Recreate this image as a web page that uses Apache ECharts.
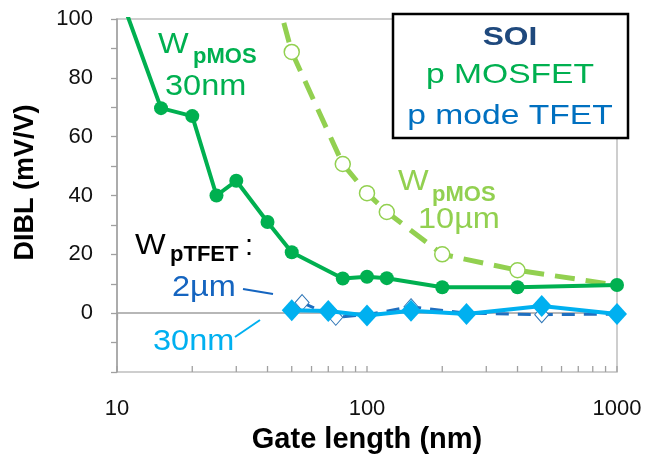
<!DOCTYPE html>
<html>
<head>
<meta charset="utf-8">
<script src="https://cdn.jsdelivr.net/npm/echarts@6/dist/echarts.min.js"></script>
<style>
html,body{margin:0;padding:0;background:#fff;}
#chart{width:646px;height:459px;}
</style>
</head>
<body>
<div id="chart"></div>
<script>
// ---- data (gate length in nm, DIBL in mV/V) ----
const pmos30L    = [10, 15, 20, 25, 30, 40, 50, 80, 100, 120, 200, 400, 1000];
const pmos30DIBL = [111, 69.7, 67, 40, 45, 31, 20.7, 11.8, 12.4, 11.9, 8.8, 8.8, 9.6];

const pmos10L    = [40, 50, 80, 100, 120, 200, 400, 1000];
const pmos10DIBL = [119, 88.8, 50.7, 40.8, 34.4, 20, 14.6, 9.5];

const tfet2L     = [55, 75, 100, 150, 250, 500, 1000];
const tfet2DIBL  = [3.6, -1.4, -0.5, 2.2, 0, -0.5, -0.3];

const tfet30L    = [50, 70, 100, 150, 250, 500, 1000];
const tfet30DIBL = [1.0, 0.7, -0.8, 0.8, -0.3, 2.4, -0.3];

const xTickLabels = [10, 100, 1000];
const yTickLabels = [0, 20, 40, 60, 80, 100];
const xMinorTicks = [20, 30, 40, 50, 60, 70, 80, 90, 200, 300, 400, 500, 600, 700, 800, 900, 10, 100, 1000];

const zip = (xs, ys) => xs.map((x, i) => [x, ys[i]]);

const FONT = 'Arial, "Liberation Sans", Helvetica, sans-serif';

const chart = echarts.init(document.getElementById('chart'), null, {renderer: 'canvas'});

function txt(text, left, baseline, size, color, bold, sx) {
  return {
    type: 'text', x: left, y: baseline - 0.35 * size, scaleX: sx || 1, z: 100,
    style: {text: text, x: 0, y: 0, align: 'left', verticalAlign: 'middle',
      font: (bold ? 'bold ' : '') + size + 'px ' + FONT, fill: color}
  };
}
function ctxt(text, cx, baseline, size, color, bold, sx) {
  const t = txt(text, cx, baseline, size, color, bold, sx);
  t.style.align = 'center';
  return t;
}

// 10 µm series: the last point has no visible marker (dash ends under the 30 nm point)
const pmos10Data = zip(pmos10L, pmos10DIBL).map((p, i, arr) =>
  i === arr.length - 1 ? {value: p, symbol: 'none'} : p);

const option = {
  animation: false,
  backgroundColor: '#fff',
  grid: {left: 117, right: 29, top: 19, bottom: 86, show: true,
    borderColor: '#BFBFBF', borderWidth: 1.5, backgroundColor: 'transparent'},
  xAxis: {
    type: 'log', logBase: 10, min: 10, max: 1000,
    name: 'Gate length (nm)', nameLocation: 'middle', nameGap: 53,
    nameTextStyle: {fontFamily: FONT, fontWeight: 'bold', fontSize: 29, color: '#000'},
    axisLine: {show: true, lineStyle: {color: '#A0A0A0', width: 1.5}},
    axisTick: {show: true, length: 7, lineStyle: {color: '#A0A0A0', width: 1.3}},
    axisLabel: {fontFamily: FONT, fontSize: 22, color: '#111', margin: 26,
      formatter: v => (xTickLabels.indexOf(Math.round(v)) >= 0 ? String(Math.round(v)) : '')},
    splitLine: {show: false}
  },
  yAxis: {
    type: 'value', min: -20, max: 100, interval: 10,
    name: 'DIBL (mV/V)', nameLocation: 'middle', nameGap: 78, nameRotate: 90,
    nameTextStyle: {fontFamily: FONT, fontWeight: 'bold', fontSize: 27, color: '#000', padding: [0, 0, 0, 26]},
    axisLine: {show: true, lineStyle: {color: '#A0A0A0', width: 1.5}},
    axisTick: {show: true, length: 6, lineStyle: {color: '#A0A0A0', width: 1.3}},
    axisLabel: {fontFamily: FONT, fontSize: 22, color: '#111', margin: 24,
      formatter: v => (yTickLabels.indexOf(v) >= 0 ? String(v) : '')},
    splitLine: {show: false}
  },
  series: [
    {
      type: 'custom', silent: true, clip: false, z: 1,
      data: xMinorTicks.map(v => [v]),
      encode: {x: 0},
      renderItem: function (params, api) {
        const p = api.coord([api.value(0), -20]);
        return {type: 'line', shape: {x1: p[0], y1: p[1], x2: p[0], y2: p[1] - 6},
          style: {stroke: '#A0A0A0', lineWidth: 1.3}};
      }
    },
    {
      name: 'pMOS 10um', type: 'line', data: pmos10Data, z: 3,
      symbol: 'circle', symbolSize: 15, showAllSymbol: true,
      lineStyle: {color: '#92D050', width: 5, type: [20, 11]},
      itemStyle: {color: '#fff', borderColor: '#92D050', borderWidth: 1.5}
    },
    {
      name: 'pMOS 30nm', type: 'line', data: zip(pmos30L, pmos30DIBL), z: 4,
      symbol: 'circle', symbolSize: 14, showAllSymbol: true,
      lineStyle: {color: '#00B050', width: 4},
      itemStyle: {color: '#00B050'}
    },
    {
      name: 'pTFET 2um', type: 'line', data: zip(tfet2L, tfet2DIBL), z: 5,
      symbol: 'diamond', symbolSize: [14, 16], showAllSymbol: true,
      lineStyle: {color: '#1F6FC0', width: 3, type: [13, 9]},
      itemStyle: {color: '#fff', borderColor: '#2E75B6', borderWidth: 1}
    },
    {
      name: 'pTFET 30nm', type: 'line', data: zip(tfet30L, tfet30DIBL), z: 6,
      symbol: 'diamond', symbolSize: [20, 22], showAllSymbol: true,
      lineStyle: {color: '#00B0F0', width: 4},
      itemStyle: {color: '#00B0F0'}
    }
  ],
  graphic: [
    // legend box
    {type: 'rect', shape: {x: 393, y: 14, width: 235, height: 124}, z: 90,
      style: {fill: '#fff', stroke: '#000', lineWidth: 2.5}},
    ctxt('SOI', 510, 47, 26, '#1F497D', true, 1.22),
    ctxt('p MOSFET', 510, 85, 28, '#00B050', false, 1.2),
    ctxt('p mode TFET', 510, 126, 28, '#0070C0', false, 1.2),
    // annotations
    txt('W', 158, 55, 29, '#00B050', false, 1.12),
    txt('pMOS', 193, 65, 22, '#00B050', true),
    txt('30nm', 165, 97, 29, '#00B050', false, 1.12),
    txt('W', 398, 192, 29, '#92D050', false, 1.12),
    txt('pMOS', 432, 203, 22, '#92D050', true),
    txt('10µm', 418, 230, 29, '#92D050', false, 1.12),
    txt('W', 135, 256, 29, '#000', false, 1.12),
    txt('pTFET', 170, 263, 22, '#000', true),
    txt(':', 245, 257, 29, '#000', false),
    txt('2µm', 172, 298, 29, '#1565C0', false, 1.12),
    txt('30nm', 153, 352, 29, '#00B0F0', false, 1.12),
    {type: 'line', z: 100, shape: {x1: 243, y1: 289, x2: 273, y2: 294},
      style: {stroke: '#1565C0', lineWidth: 2}},
    {type: 'line', z: 100, shape: {x1: 235, y1: 337, x2: 260, y2: 320},
      style: {stroke: '#00B0F0', lineWidth: 2}}
  ]
};
chart.setOption(option);
</script>
</body>
</html>
